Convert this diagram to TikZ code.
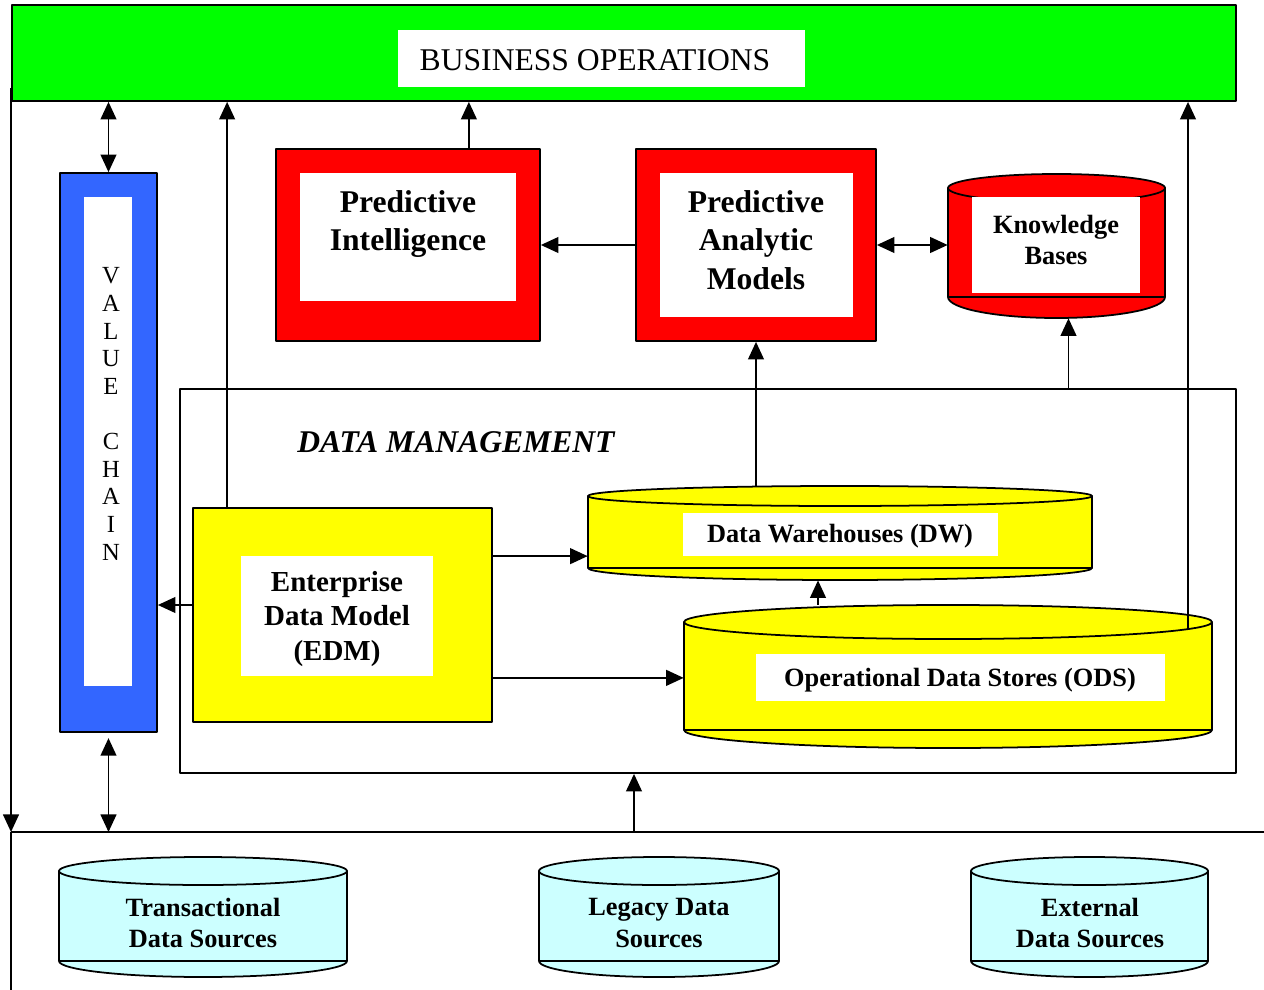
\documentclass[tikz,border=0pt]{standalone}
\usepackage{fontspec}
\setmainfont{Liberation Serif}
\usetikzlibrary{arrows.meta,fit,calc}
\definecolor{opgreen}{HTML}{00FF00}
\definecolor{vcblue}{HTML}{3366FF}
\definecolor{srccyan}{HTML}{CCFFFF}
\definecolor{edmyellow}{HTML}{FFFF00}
% drum: name, fill, x left, x right, y top rim, y bottom seam, top ry, bottom ry
\newcommand{\dbdrum}[8]{%
  \pgfmathsetmacro{\drumrx}{(#4-#3)/2}%
  \pgfmathsetmacro{\drumcx}{(#4+#3)/2}%
  \filldraw[fill=#2, line width=1pt] (#3,#5) -- (#3,#6)
    arc[start angle=180, end angle=0, x radius=\drumrx, y radius=#8] -- (#4,#5) -- cycle;
  \draw[line width=1pt] (#3,#6) -- (#4,#6);
  \filldraw[fill=#2, line width=1pt] (\drumcx,#5) ellipse[x radius=\drumrx, y radius=#7];
  \node[inner sep=0pt, fit={(#3,{#5-#7}) (#4,{#6+#8})}] (#1) {};
}
\begin{document}
\begin{tikzpicture}[x=0.02cm, y=-0.02cm, line join=round,
    frame/.style={draw, line width=1pt, inner sep=0pt},
    card/.style={fill=white, inner sep=0pt},
    bigtxt/.style={font=\fontsize{18}{22}\selectfont\bfseries, align=center},
    midtxt/.style={font=\fontsize{16.5}{19.5}\selectfont\bfseries, align=center},
    smalltxt/.style={font=\fontsize{15}{18}\selectfont\bfseries, align=center},
    arr/.style={-{Triangle[length=10pt,width=9pt]}, line width=1pt},
    darr/.style={{Triangle[length=10pt,width=9pt]}-{Triangle[length=10pt,width=9pt]}, line width=1pt}]
  \useasboundingbox (0,0) rectangle (1264,990);

  % business operations band
  \node[frame, fill=opgreen, fit={(12,5) (1236,101)}] (bo) {};
  \node[card, fit={(398,30) (805,87)}] (boin) {};
  \node[font=\fontsize{18}{22}\selectfont] (botxt) at (595,60) {BUSINESS OPERATIONS};

  % value chain column
  \node[frame, fill=vcblue, fit={(60,173) (157,732)}] (vc) {};
  \node[card, fit={(84,197) (132,686)}] (vcin) {};
  \foreach \ch/\k in {V/0,A/1,L/2,U/3,E/4,C/6,H/7,A/8,I/9,N/10}
    \node[font=\fontsize{14}{14}\selectfont] (vc\k) at (111,276+27.6*\k) {\ch};

  % data management frame
  \node[draw, line width=1pt, inner sep=0pt, fit={(180,389) (1236,773)}] (dm) {};
  \node[font=\fontsize{18}{22}\selectfont\bfseries\itshape] (dmtxt) at (456,442) {DATA MANAGEMENT};

  % predictive boxes
  \node[frame, fill=red, fit={(276,149) (540,341)}] (pi) {};
  \node[card, fit={(300,173) (516,301)}] (piin) {};
  \node[bigtxt] (pitxt) at (408,224) {Predictive\\Intelligence};
  \node[frame, fill=red, fit={(636,149) (876,341)}] (pam) {};
  \node[card, fit={(660,173) (853,317)}] (pamin) {};
  \node[bigtxt] (pamtxt) at (756,240) {Predictive\\Analytic\\Models};

  \dbdrum{kb}{red}{948}{1165}{188}{297}{14}{21}
  \node[card, fit={(972,197) (1140,293)}] (kbin) {};
  \node[smalltxt] (kbtxt) at (1056,240) {Knowledge\\Bases};

  % enterprise model and stores
  \node[frame, fill=edmyellow, fit={(193,508) (492,722)}] (edm) {};
  \node[card, fit={(241,556) (433,676)}] (edmin) {};
  \node[midtxt] (edmtxt) at (337,619) {Enterprise\\Data Model\\(EDM)};

  \dbdrum{dw}{edmyellow}{588}{1092}{496}{568}{10}{12}
  \node[card, fit={(683,513) (998,556)}] (dwin) {};
  \node[smalltxt] (dwtxt) at (840,536) {Data Warehouses (DW)};
  \dbdrum{ods}{edmyellow}{684}{1212}{622}{730}{17}{18}
  \node[card, fit={(756,654) (1165,701)}] (odsin) {};
  \node[smalltxt] (odstxt) at (960,680) {Operational Data Stores (ODS)};

  % sources
  \coordinate (srcL) at (11,832);
  \coordinate (srcR) at (1264,832);
  \draw[line width=1pt] (srcL) -- (srcR);
  \dbdrum{tds}{srccyan}{59}{347}{871}{961}{14}{16}
  \dbdrum{lds}{srccyan}{539}{779}{871}{961}{14}{16}
  \dbdrum{eds}{srccyan}{971}{1208}{871}{961}{14}{16}
  \node[smalltxt] (tdstxt) at (203,923) {Transactional\\Data Sources};
  \node[smalltxt] (ldstxt) at (659,923) {Legacy Data\\Sources};
  \node[smalltxt] (edstxt) at (1090,923) {External\\Data Sources};

  % connectors
  \coordinate (loop) at (11,88);
  \coordinate (loopEnd) at (11,990);
  \draw[arr] (loop) -- (srcL);
  \draw[line width=1pt] (srcL) -- (loopEnd);
  \draw[darr] (vc.north) -- (vc.north |- bo.south);
  \draw[darr, shorten <=3pt] (vc.south) -- (vc.south |- srcL);
  \path ($(edm.north west)+(35,0)$) coordinate (e1);
  \draw[arr] (e1) -- (e1 |- bo.south);
  \path ($(pi.north east)+(-72,0)$) coordinate (p1);
  \draw[arr] (p1) -- (p1 |- bo.south);
  \draw[arr] (pam.west) -- (pi.east);
  \draw[darr] (pam.east) -- (pam.east -| kb.west);
  \draw[arr] (dw.north -| pam.south) -- (pam.south);
  \path ($(kb.south)+(12,0)$) coordinate (k1);
  \draw[arr] (dm.north -| k1) -- (k1);
  \coordinate (odsrim) at (1188,629);
  \draw[arr] (odsrim) -- (odsrim |- bo.south);
  \path ($(dw.south)+(-22,0)$) coordinate (d1);
  \draw[arr] (ods.north -| d1) -- (d1);
  \path ($(edm.west)+(0,-10)$) coordinate (e2);
  \draw[arr] (e2) -- (e2 -| vc.east);
  \path ($(edm.north east)+(0,49)$) coordinate (e3);
  \draw[arr] (e3) -- (e3 -| dw.west);
  \path ($(edm.south east)+(0,-45)$) coordinate (e4);
  \draw[arr] (e4) -- (e4 -| ods.west);
  \coordinate (feed) at (634,832);
  \draw[arr] (feed) -- (feed |- dm.south);
\end{tikzpicture}
\end{document}
